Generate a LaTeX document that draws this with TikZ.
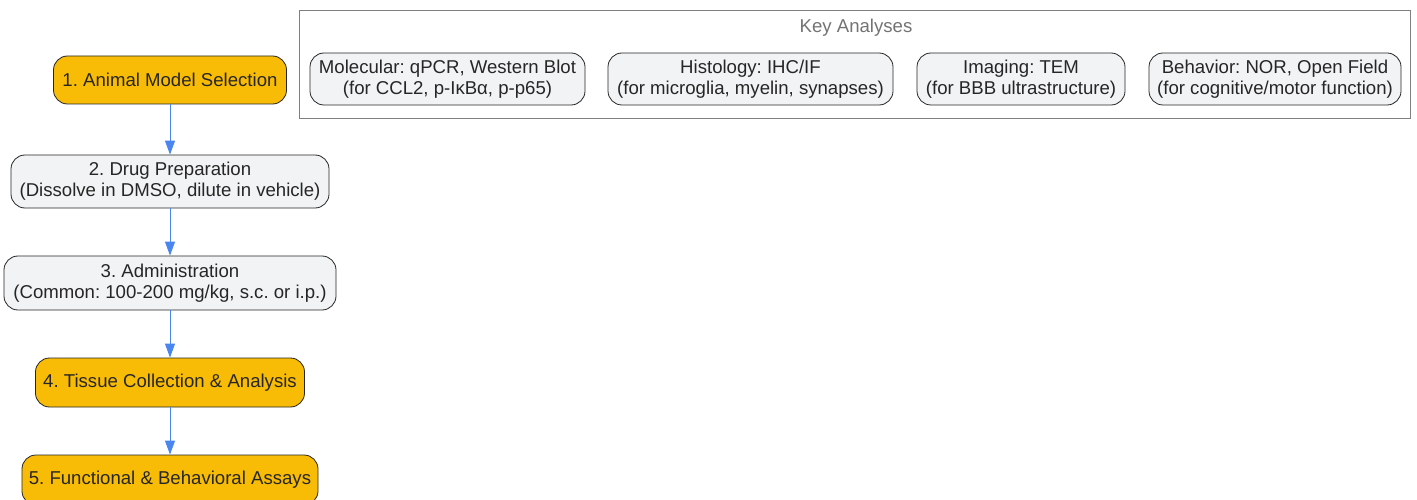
\documentclass[tikz,border=0pt]{standalone}
\usepackage{fontspec}
\setmainfont{Liberation Sans}
\usetikzlibrary{arrows.meta}
\definecolor{stepgold}{HTML}{F9BC06}
\definecolor{boxgray}{HTML}{F1F3F4}
\definecolor{flowblue}{HTML}{4A86F0}
\definecolor{inkdark}{HTML}{262626}
\begin{document}
\frenchspacing
\begin{tikzpicture}
		[x=1pt,y=-1pt,
		font=\fontsize{18.6}{21}\selectfont,
		base/.style ={rectangle, draw=inkdark, line width=0.8pt, text=inkdark, align=center, rounded corners=14pt, inner sep=0pt},
		stepbox/.style ={base, fill=stepgold},
		infobox/.style ={base, fill=boxgray},
		frame/.style ={rectangle, draw=black!50, line width=0.9pt, inner sep=0pt},
		flow/.style ={color=flowblue, line width=1pt, -{Triangle[length=14pt,width=10pt]}},
		]
		\useasboundingbox (0,0) rectangle (1417,500);

		% main workflow
		\draw (170,80) node[stepbox, minimum width=233pt, minimum height=48pt] (S1) {1. Animal Model Selection};
		\draw (170,181.5) node[infobox, minimum width=318pt, minimum height=53pt] (S2) {2. Drug Preparation\\(Dissolve in DMSO, dilute in vehicle)};
		\draw (170,283) node[infobox, minimum width=332pt, minimum height=54pt] (S3) {3. Administration\\(Common: 100-200 mg/kg, s.c. or i.p.)};
		\draw (170,382.5) node[stepbox, minimum width=269pt, minimum height=49pt] (S4) {4. Tissue Collection \& Analysis};
		\draw (170,480) node[stepbox, minimum width=296pt, minimum height=50pt] (S5) {5. Functional \& Behavioral Assays};

		% key analyses group
		\draw (854.5,64) node[frame, minimum width=1111pt, minimum height=108pt] (KA) {};
		\draw (856,28) node[text=black!55] (KAtitle) {Key Analyses};
		\draw (447.5,79) node[infobox, minimum width=275pt, minimum height=52pt] (A1) {Molecular: qPCR, Western Blot\\(for CCL2, p-IκBα, p-p65)};
		\draw (750.5,79) node[infobox, minimum width=285pt, minimum height=52pt] (A2) {Histology: IHC/IF\\(for microglia, myelin, synapses)};
		\draw (1021,79) node[infobox, minimum width=208pt, minimum height=52pt] (A3) {Imaging: TEM\\(for BBB ultrastructure)};
		\draw (1275,79) node[infobox, minimum width=252pt, minimum height=52pt] (A4) {Behavior: NOR, Open Field\\(for cognitive/motor function)};

		\path[flow]
		(S1) edge (S2)
		(S2) edge (S3)
		(S3) edge (S4)
		(S4) edge (S5);
	\end{tikzpicture}
\end{document}
